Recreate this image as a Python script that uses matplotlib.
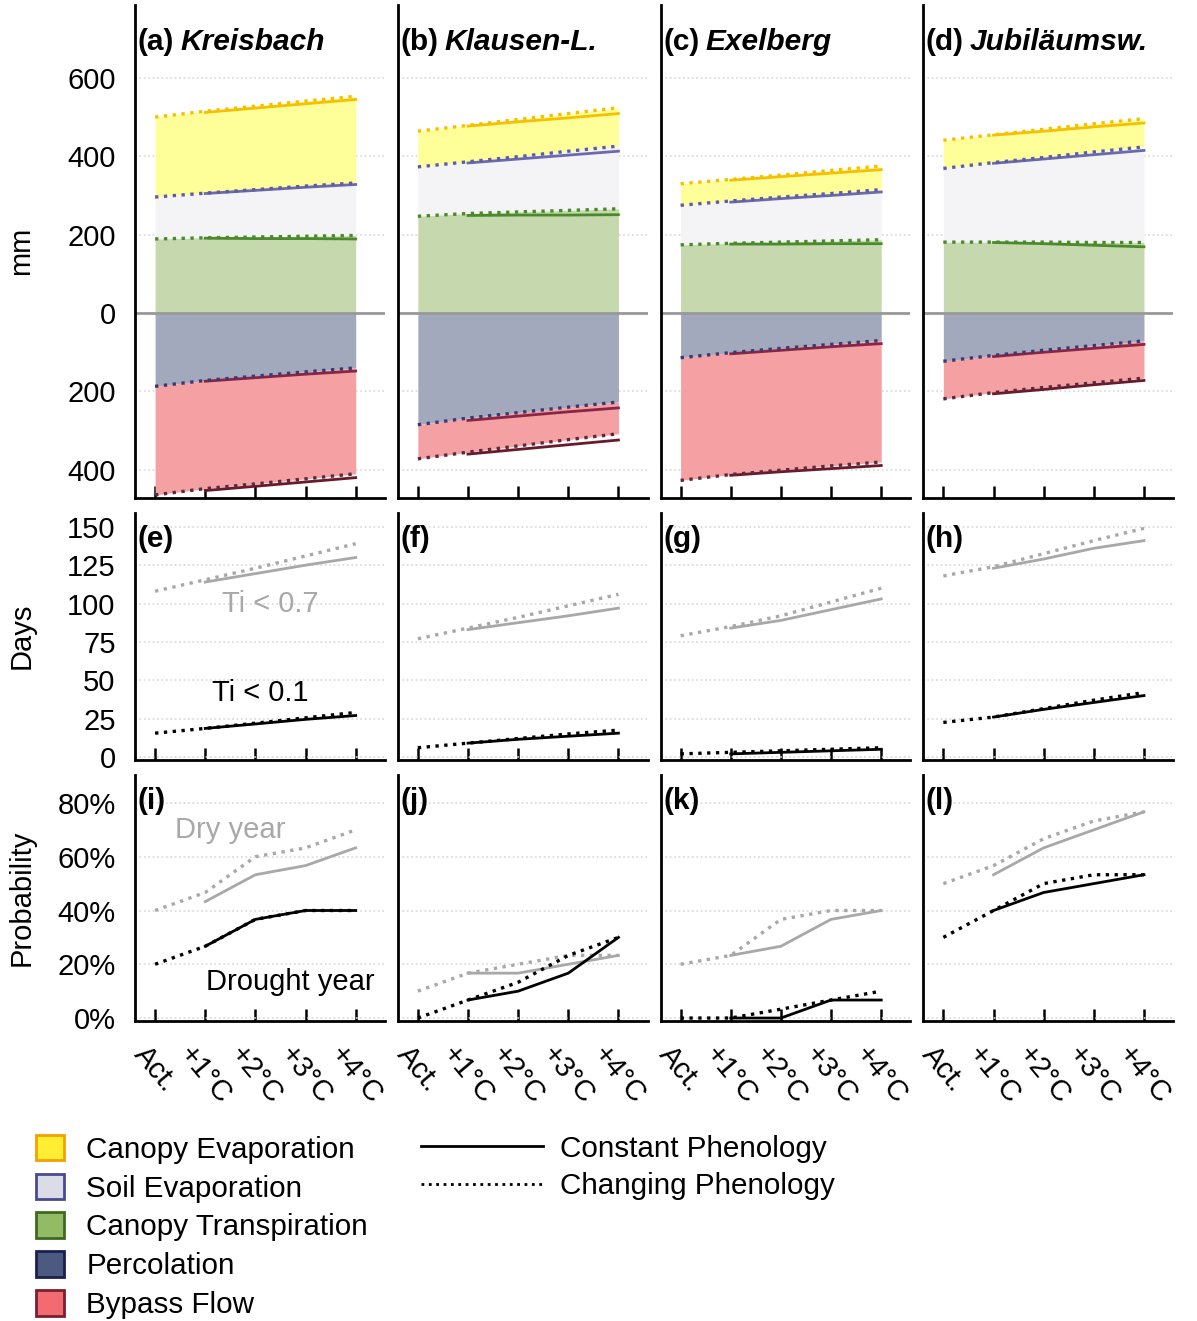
import numpy as np
import matplotlib
matplotlib.use('Agg')
import matplotlib.pyplot as plt
from matplotlib.patches import Patch
from matplotlib.lines import Line2D
from matplotlib.ticker import FuncFormatter

plt.rcParams['font.family'] = ['Liberation Sans', 'DejaVu Sans']

####################################################################################################

scenarios = ['Act.', '+1°C', '+2°C', '+3°C', '+4°C']
sites = ['Kreisbach', 'Klausen-L.', 'Exelberg', 'Jubiläumsw.']
letters_top = ['(a)', '(b)', '(c)', '(d)']
letters_mid = ['(e)', '(f)', '(g)', '(h)']
letters_bot = ['(i)', '(j)', '(k)', '(l)']

layer_names = ['Canopy Evaporation', 'Soil Evaporation', 'Canopy Transpiration', 'Percolation', 'Bypass Flow']

# cumulative boundaries [mm], changing phenology: Act..+4
ce_top_chg = [[500, 515, 528, 541, 553], [464, 479, 494, 509, 524], [330, 341, 352, 364, 375], [441, 455, 469, 483, 496]]
se_top_chg = [[296, 306, 315, 324, 332], [373, 386, 399, 413, 426], [275, 286, 296, 305, 315], [369, 384, 397, 411, 424]]
tr_top_chg = [[189, 192, 194, 196, 198], [247, 254, 258, 262, 266], [174, 178, 181, 184, 187], [181, 181, 181, 180, 180]]
pc_bot_chg = [[-187, -172, -161, -150, -140], [-285, -268, -254, -240, -227], [-114, -101, -90, -80, -70], [-123, -108, -95, -83, -71]]
bp_bot_chg = [[-464, -448, -436, -423, -410], [-372, -355, -339, -323, -308], [-427, -412, -401, -390, -380], [-219, -203, -190, -178, -166]]

# constant phenology: +1..+4
ce_top_con = [[512, 523, 534, 545], [477, 488, 498, 509], [339, 348, 357, 366], [454, 464, 475, 485]]
se_top_con = [[305, 313, 321, 328], [383, 393, 403, 413], [283, 292, 300, 309], [382, 393, 404, 415]]
tr_top_con = [[191, 190, 190, 189], [249, 250, 250, 251], [176, 176, 177, 177], [180, 177, 173, 169]]
pc_bot_con = [[-174, -165, -156, -148], [-274, -263, -252, -242], [-104, -95, -86, -78], [-111, -100, -90, -80]]
bp_bot_con = [[-453, -442, -431, -420], [-360, -348, -336, -324], [-414, -405, -397, -389], [-206, -195, -183, -172]]

# days with Ti < 0.7 / Ti < 0.1
ti07_chg = [[108, 115.5, 123, 131, 139], [77, 84, 91, 98.5, 106], [79, 85, 92, 101, 110], [118, 124, 132.5, 141, 149]]
ti07_con = [[114, 119.5, 125, 130], [83, 87.5, 92, 97], [84, 89, 96, 103], [123, 129, 136, 141]]
ti01_chg = [[15.5, 18.6, 22, 25.5, 29], [6, 9, 12, 15, 17.5], [2, 3, 4, 5, 6], [22.5, 26, 31.5, 37, 42]]
ti01_con = [[18.6, 21.5, 24.5, 27], [9, 11.5, 13.5, 15.5], [2, 3, 4, 5], [26, 31, 35.5, 40]]

# probability [%] of dry / drought year
dry_chg = [[40, 46.7, 60, 63.3, 70], [10, 16.7, 20, 23.3, 23.3], [20, 23.3, 36.7, 40, 40], [50, 56.7, 66.7, 73.3, 76.7]]
dry_con = [[43.3, 53.3, 56.7, 63.3], [16.7, 16.7, 20, 23.3], [23.3, 26.7, 36.7, 40], [53.3, 63.3, 70, 76.7]]
drought_chg = [[20, 26.7, 36.7, 40, 40], [0, 6.7, 13.3, 23.3, 30], [0, 0, 3.3, 6.7, 10], [30, 40, 50, 53.3, 53.3]]
drought_con = [[26.7, 36.7, 40, 40], [6.7, 10, 16.7, 30], [0, 0, 6.7, 6.7], [40, 46.7, 50, 53.3]]

####################################################################################################

fill_colors = ['#ffff99', '#f4f4f7', '#c6d9ae', '#a3a9bc', '#f5a0a3']
patch_faces = ['#ffee33', '#dcdce6', '#93bb66', '#4d5a80', '#f26b70']
patch_edges = ['#f5a000', '#4a4a90', '#3c6a1e', '#1a1f50', '#7a1f30']
dot_colors = ['#f5c000', '#5c5ca8', '#4a8a2a', '#3a3a72', '#5a2a3c']
solid_colors = ['#f5c000', '#6a6ab0', '#4a8a2a', '#8a2545', '#6a1a2a']
grey = '#a8a8a8'

x = np.arange(5)
x_con = x[1:]
fs = 21
fs_title = 21.5

figure = plt.figure(figsize=(11.97, 13.21), dpi=100)
gs = figure.add_gridspec(3, 4, left=0.1128, right=0.980, top=0.9962, bottom=0.2271,
                         height_ratios=[493, 247, 246], hspace=0.0456, wspace=0.052)


def style(ax, ylim, yticks, labels_y, labels_x):
    ax.set_xlim(-0.4, 4.58)
    ax.set_ylim(*ylim)
    ax.set_yticks(yticks)
    ax.set_xticks(x)
    for side in ('top', 'right'):
        ax.spines[side].set_visible(False)
    for side in ('left', 'bottom'):
        ax.spines[side].set_linewidth(2)
    ax.tick_params(axis='y', length=0, labelsize=fs, pad=14, labelleft=labels_y)
    ax.tick_params(axis='x', direction='in', length=9, width=1.8, labelsize=fs, pad=14,
                   labelbottom=labels_x)
    ax.grid(axis='y', color='#d8d8d8', linestyle=':', linewidth=1.2)
    ax.set_axisbelow(True)
    if labels_x:
        ax.set_xticklabels(scenarios, rotation=-50, ha='center', va='top')


for i in range(4):
    # water balance
    ax = figure.add_subplot(gs[0, i])
    style(ax, (-472, 786), [-400, -200, 0, 200, 400, 600], i == 0, False)
    ax.yaxis.set_major_formatter(FuncFormatter(lambda v, p: '%d' % abs(v)))
    chg = [ce_top_chg[i], se_top_chg[i], tr_top_chg[i], pc_bot_chg[i], bp_bot_chg[i]]
    con = [ce_top_con[i], se_top_con[i], tr_top_con[i], pc_bot_con[i], bp_bot_con[i]]
    lower = [se_top_chg[i], tr_top_chg[i], [0] * 5, [0] * 5, pc_bot_chg[i]]
    for k in range(5):
        ax.fill_between(x, lower[k], chg[k], color=fill_colors[k], linewidth=0, zorder=1)
    ax.axhline(0, color='#999999', linewidth=2, zorder=2)
    for k in range(5):
        ax.plot(x_con, con[k], color=solid_colors[k], linewidth=2, zorder=3)
        ax.plot(x, chg[k], color=dot_colors[k], linewidth=2.4, linestyle=':', zorder=4)
    t = ax.text(0.01, 0.925, letters_top[i], transform=ax.transAxes, fontsize=fs_title,
                fontweight='bold', va='center', ha='left')
    figure.canvas.draw()
    bb = t.get_window_extent().transformed(ax.transAxes.inverted())
    ax.text(bb.x1 + 0.025, 0.925, sites[i], transform=ax.transAxes, fontsize=fs_title,
            fontweight='bold', fontstyle='italic', va='center', ha='left')

    # days
    ax = figure.add_subplot(gs[1, i])
    style(ax, (-2, 159), [0, 25, 50, 75, 100, 125, 150], i == 0, False)
    ax.plot(x_con, ti07_con[i], color=grey, linewidth=2)
    ax.plot(x, ti07_chg[i], color=grey, linewidth=2.4, linestyle=':')
    ax.plot(x_con, ti01_con[i], color='black', linewidth=2)
    ax.plot(x, ti01_chg[i], color='black', linewidth=2.4, linestyle=':')
    ax.text(0.01, 0.95, letters_mid[i], transform=ax.transAxes, fontsize=fs_title,
            fontweight='bold', va='top', ha='left')
    if i == 0:
        ax.text(2.3, 100, 'Ti < 0.7', color=grey, fontsize=fs, ha='center', va='center')
        ax.text(2.1, 42, 'Ti < 0.1', color='black', fontsize=fs, ha='center', va='center')

    # probability
    ax = figure.add_subplot(gs[2, i])
    style(ax, (-1.1, 90.4), [0, 20, 40, 60, 80], i == 0, True)
    ax.yaxis.set_major_formatter(FuncFormatter(lambda v, p: '%d%%' % v))
    ax.plot(x_con, dry_con[i], color=grey, linewidth=2)
    ax.plot(x, dry_chg[i], color=grey, linewidth=2.4, linestyle=':')
    ax.plot(x_con, drought_con[i], color='black', linewidth=2)
    ax.plot(x, drought_chg[i], color='black', linewidth=2.4, linestyle=':')
    ax.text(0.01, 0.95, letters_bot[i], transform=ax.transAxes, fontsize=fs_title,
            fontweight='bold', va='top', ha='left')
    if i == 0:
        ax.text(1.5, 70, 'Dry year', color=grey, fontsize=fs, ha='center', va='center')
        ax.text(2.7, 13.3, 'Drought year', color='black', fontsize=fs, ha='center', va='center')

figure.text(0.018, 1 - 251 / 1321, 'mm', rotation=90, fontsize=21, ha='center', va='center')
figure.text(0.018, 1 - 636 / 1321, 'Days', rotation=90, fontsize=21, ha='center', va='center')
figure.text(0.018, 1 - 898 / 1321, 'Probability', rotation=90, fontsize=21, ha='center', va='center')

####################################################################################################

patches = [Patch(facecolor=patch_faces[k], edgecolor=patch_edges[k], linewidth=2, label=layer_names[k])
           for k in range(5)]
figure.legend(handles=patches, loc='upper left', bbox_to_anchor=(0.030, 0.141), frameon=False,
              fontsize=21.3, handlelength=0.95, handleheight=0.95, labelspacing=0.335,
              handletextpad=0.75, borderpad=0, borderaxespad=0)

lines = [Line2D([], [], color='black', linewidth=2, label='Constant Phenology'),
         Line2D([], [], color='black', linewidth=2, linestyle=':', label='Changing Phenology')]
figure.legend(handles=lines, loc='upper left', bbox_to_anchor=(0.352, 0.141), frameon=False,
              fontsize=21.3, handlelength=4.1, labelspacing=0.32, handletextpad=0.6,
              borderpad=0, borderaxespad=0)

figure.savefig('out.png', dpi=100)
